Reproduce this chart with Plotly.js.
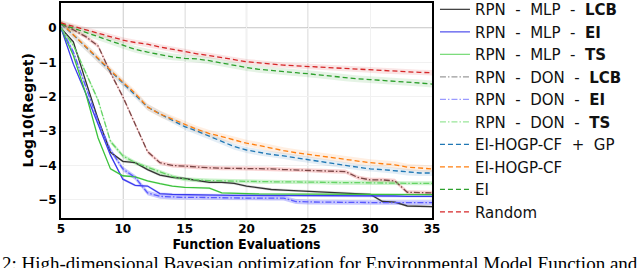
<!DOCTYPE html>
<html>
<head>
<meta charset="utf-8">
<script src="https://cdn.plot.ly/plotly-3.0.1.min.js"></script>
<style>html,body{margin:0;padding:0;background:#fff;}#chart{width:640px;height:268px;}</style>
</head>
<body>
<div id="chart"></div>
<script>
// ---- data ----
const evals = [5,6,7,8,9,10,11,12,13,14,15,16,17,18,19,20,21,22,23,24,25,26,27,28,29,30,31,32,33,34,35];

const mlpLCB = [0.0,-0.4,-1.55,-2.65,-3.62,-3.88,-3.92,-4.12,-4.28,-4.35,-4.38,-4.43,-4.49,-4.49,-4.52,-4.6,-4.65,-4.7,-4.72,-4.74,-4.74,-4.76,-4.78,-4.8,-4.82,-4.84,-5.05,-5.07,-5.18,-5.2,-5.2];
const mlpEI  = [0.0,-1.05,-1.9,-2.8,-3.7,-4.4,-4.58,-4.6,-4.82,-4.84,-4.85,-4.86,-4.86,-4.86,-4.87,-4.87,-4.87,-4.87,-4.87,-4.87,-4.88,-4.88,-4.88,-4.88,-4.88,-4.88,-4.89,-4.89,-4.9,-4.9,-4.9];
const mlpTS  = [0.0,-0.8,-1.9,-3.2,-4.1,-4.3,-4.33,-4.45,-4.53,-4.6,-4.64,-4.64,-4.66,-4.8,-4.82,-4.82,-4.83,-4.83,-4.83,-4.84,-4.84,-4.84,-4.84,-4.85,-4.85,-4.85,-4.85,-4.85,-4.85,-4.85,-4.85];
const donLCB = [0.12,-0.05,-0.25,-0.52,-1.3,-2.0,-2.8,-3.6,-3.92,-4.0,-4.02,-4.05,-4.07,-4.08,-4.08,-4.08,-4.08,-4.1,-4.12,-4.13,-4.14,-4.16,-4.18,-4.18,-4.35,-4.42,-4.42,-4.45,-4.78,-4.8,-4.8];
const donEI  = [0.0,-0.7,-1.7,-2.7,-3.55,-4.1,-4.35,-4.8,-4.9,-4.92,-4.93,-4.93,-4.94,-4.94,-4.94,-4.95,-4.95,-4.95,-4.95,-5.05,-5.07,-5.07,-5.07,-5.08,-5.08,-5.08,-5.08,-5.08,-5.08,-5.08,-5.08];
const donTS  = [0.0,-0.5,-1.3,-2.1,-3.3,-3.72,-3.92,-4.05,-4.2,-4.32,-4.4,-4.43,-4.44,-4.45,-4.46,-4.46,-4.47,-4.47,-4.48,-4.48,-4.49,-4.49,-4.5,-4.5,-4.5,-4.51,-4.51,-4.52,-4.52,-4.52,-4.52];
const hogpGP = [0.12,-0.2,-0.55,-0.9,-1.25,-1.6,-1.95,-2.3,-2.5,-2.68,-2.87,-3.0,-3.15,-3.3,-3.45,-3.55,-3.62,-3.68,-3.72,-3.78,-3.84,-3.9,-3.95,-4.0,-4.05,-4.1,-4.12,-4.15,-4.2,-4.22,-4.22];
const hogp   = [0.15,-0.2,-0.55,-0.9,-1.25,-1.57,-1.9,-2.3,-2.5,-2.65,-2.78,-2.95,-3.07,-3.17,-3.25,-3.35,-3.42,-3.5,-3.57,-3.63,-3.68,-3.72,-3.77,-3.82,-3.87,-3.92,-3.95,-3.98,-4.05,-4.08,-4.1];
const eiBase = [0.12,0.0,-0.12,-0.25,-0.38,-0.5,-0.62,-0.7,-0.78,-0.84,-0.88,-0.9,-0.95,-1.02,-1.08,-1.15,-1.2,-1.24,-1.27,-1.3,-1.33,-1.37,-1.42,-1.45,-1.48,-1.5,-1.52,-1.55,-1.58,-1.6,-1.63];
const randomBase = [0.15,0.05,-0.05,-0.15,-0.25,-0.35,-0.42,-0.47,-0.55,-0.62,-0.7,-0.75,-0.8,-0.85,-0.92,-0.98,-1.02,-1.05,-1.08,-1.1,-1.12,-1.15,-1.17,-1.18,-1.2,-1.22,-1.25,-1.27,-1.28,-1.29,-1.3];

// half-width of the shaded spread for each series
const spreadMlpLCB = 0.04, spreadMlpEI = 0.04, spreadMlpTS = 0.03;
const spreadDonLCB = 0.06, spreadDonEI = 0.07, spreadDonTS = 0.06;
const spreadHogpGP = 0.09, spreadHogp = 0.1, spreadEI = 0.1, spreadRandom = 0.08;

const seriesNames = ['RPN &nbsp;-&nbsp; MLP &nbsp;-&nbsp; <b>LCB</b>','RPN &nbsp;-&nbsp; MLP &nbsp;-&nbsp; <b>EI</b>','RPN &nbsp;-&nbsp; MLP &nbsp;-&nbsp; <b>TS</b>',
  'RPN &nbsp;-&nbsp; DON &nbsp;-&nbsp; <b>LCB</b>','RPN &nbsp;-&nbsp; DON &nbsp;-&nbsp; <b>EI</b>','RPN &nbsp;-&nbsp; DON &nbsp;-&nbsp; <b>TS</b>',
  'EI-HOGP-CF &nbsp;+&nbsp; GP','EI-HOGP-CF','EI','Random'];
const xTicks = [5,10,15,20,25,30,35];
const yTicks = [0,-1,-2,-3,-4,-5];

// ---- drawing ----
const series = [
  {y: mlpLCB, s: spreadMlpLCB, line:'#333333', leg:'#444444', band:'rgba(0,0,0,0.12)', dash:'solid'},
  {y: mlpEI,  s: spreadMlpEI,  line:'#3b3bee', leg:'#5a5aee', band:'rgba(40,40,255,0.15)', dash:'solid'},
  {y: mlpTS,  s: spreadMlpTS,  line:'#3cc23c', leg:'#7ddc7d', band:'rgba(60,200,60,0.15)', dash:'solid'},
  {y: donLCB, s: spreadDonLCB, line:'#7a4646', leg:'#9a9a9a', band:'rgba(235,90,90,0.28)', dash:'6px,2px,1.5px,2px'},
  {y: donEI,  s: spreadDonEI,  line:'#5a5aff', leg:'#9a9aff', band:'rgba(70,70,255,0.3)', dash:'6px,2px,1.5px,2px'},
  {y: donTS,  s: spreadDonTS,  line:'#66d466', leg:'#99e699', band:'rgba(110,220,110,0.35)', dash:'6px,2px,1.5px,2px'},
  {y: hogpGP, s: spreadHogpGP, line:'#1f77b4', leg:'#1f77b4', band:'rgba(31,119,180,0.12)', dash:'5px,3px'},
  {y: hogp,   s: spreadHogp,   line:'#ff7f0e', leg:'#ff7f0e', band:'rgba(255,127,14,0.12)', dash:'5px,3px'},
  {y: eiBase, s: spreadEI,     line:'#2ca02c', leg:'#2ca02c', band:'rgba(44,160,44,0.12)', dash:'5px,3px'},
  {y: randomBase, s: spreadRandom, line:'#d62728', leg:'#d62728', band:'rgba(214,39,40,0.12)', dash:'5px,3px'}
];

const traces = [];
series.forEach((d) => {
  const upper = d.y.map(v => v + d.s);
  const lower = d.y.map(v => v - d.s);
  traces.push({x: evals.concat(evals.slice().reverse()), y: upper.concat(lower.slice().reverse()),
    type:'scatter', mode:'lines', fill:'toself', fillcolor:d.band, line:{width:0}, hoverinfo:'skip', showlegend:false});
});
series.forEach((d) => {
  traces.push({x: evals, y: d.y, type:'scatter', mode:'lines', showlegend:false,
    line:{color:d.line, width:1.3, dash:d.dash}});
});
series.forEach((d, i) => {
  traces.push({x:[null], y:[null], type:'scatter', mode:'lines', name: seriesNames[i],
    line:{color:d.leg, width:1.3, dash:d.dash}});
});

const darkGrid = [10,15,20,25];
const shapes = darkGrid.map(v => ({type:'line', xref:'x', yref:'paper', x0:v, x1:v, y0:0, y1:1,
  line:{color:'#a8a8a8', width:1.2}, layer:'below'}));
shapes.push({type:'line', xref:'paper', yref:'y', x0:0, x1:1, y0:0, y1:0, line:{color:'#a8a8a8', width:1.2}, layer:'below'});

const tickFont = {family:'DejaVu Sans, sans-serif', size:12, color:'#000', weight:'bold'};
const layout = {
  width:640, height:268,
  margin:{l:61, r:208, t:3, b:50, pad:0, autoexpand:false},
  paper_bgcolor:'#fff', plot_bgcolor:'#fff',
  showlegend:true,
  xaxis:{range:[5,35], tickvals:xTicks, ticktext:xTicks.map(String), showgrid:true, gridcolor:'#f1f1f1', gridwidth:1,
    zeroline:false, showline:true, linecolor:'#000', linewidth:2, mirror:true, ticks:'', ticklabelstandoff:-1,
    tickfont:tickFont,
    title:{text:'<b>Function Evaluations</b>', font:{family:'DejaVu Sans Condensed, DejaVu Sans, sans-serif', size:14, color:'#000'}, standoff:0}},
  yaxis:{range:[-5.53,0.73], tickvals:yTicks, showgrid:true, gridcolor:'#f1f1f1', gridwidth:1,
    zeroline:false, showline:true, linecolor:'#000', linewidth:2, mirror:true, ticks:'', ticklabelstandoff:0,
    tickfont:tickFont},
  legend:{x:1.008, xanchor:'left', y:1.046, yanchor:'top', traceorder:'normal', maxheight:1,
    font:{family:'DejaVu Sans, sans-serif', size:15, color:'#111'}, bgcolor:'rgba(0,0,0,0)', borderwidth:0},
  shapes:shapes,
  annotations:[
    {text:'<b>Log10(Regret)</b>', xref:'paper', yref:'paper', x:-0.088, y:0.502, xanchor:'center', yanchor:'middle',
     textangle:-90, showarrow:false, font:{family:'DejaVu Sans, sans-serif', size:14, color:'#000'}},
    {text:'2: High-dimensional Bayesian optimization for Environmental Model Function and t',
    xref:'paper', yref:'paper', x:-0.164, y:-0.155, xanchor:'left', yanchor:'top', showarrow:false,
    font:{family:'Liberation Serif, serif', size:19, color:'#000'}}]
};

Plotly.newPlot('chart', traces, layout, {displayModeBar:false, staticPlot:true});
</script>
</body>
</html>
